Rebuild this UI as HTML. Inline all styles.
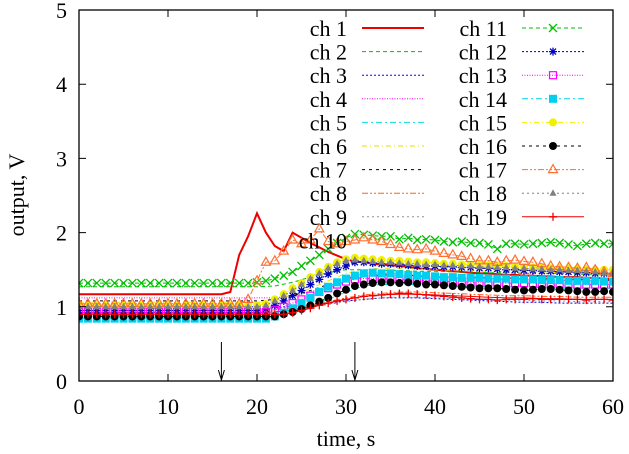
<!DOCTYPE html>
<html><head><meta charset="utf-8"><style>
html,body{margin:0;padding:0;background:#fff;}
svg{display:block;font-family:"Liberation Serif",serif;}
</style></head><body>
<svg id="chart" width="629" height="454" viewBox="0 0 629 454" xmlns="http://www.w3.org/2000/svg">
<defs><clipPath id="clip"><rect x="79" y="10" width="534" height="371"/></clipPath></defs>
<g id="grid-layer"></g>
<g id="series-layer" clip-path="url(#clip)"></g>
<g id="legend-layer"></g>
<g id="axes-layer"></g>
</svg>
<script>
const xTicks=[0,10,20,30,40,50,60];
const yTicks=[0,1,2,3,4,5];
const arrowTimes=[16,31];
const seriesNames=["ch 1","ch 2","ch 3","ch 4","ch 5","ch 6","ch 7","ch 8","ch 9","ch 10","ch 11","ch 12","ch 13","ch 14","ch 15","ch 16","ch 17","ch 18","ch 19"];
const t31=[0,2,4,6,8,10,12,14,16,18,20,22,24,26,28,30,32,34,36,38,40,42,44,46,48,50,52,54,56,58,60];
const ch1=[1.17,1.17,1.17,1.17,1.17,1.17,1.17,1.17,1.17,1.17,1.17,1.17,1.17,1.17,1.17,1.17,1.17,1.2,1.7,1.95,2.26,2.0,1.82,1.75,2.0,1.93,1.86,1.8,1.74,1.69,1.64,1.61,1.6,1.58,1.57,1.56,1.55,1.54,1.52,1.51,1.5,1.49,1.48,1.47,1.46,1.45,1.45,1.44,1.43,1.43,1.42,1.42,1.41,1.41,1.4,1.4,1.4,1.39,1.39,1.38,1.38];
const ch2=[1.27,1.27,1.27,1.27,1.27,1.27,1.27,1.27,1.27,1.27,1.27,1.28,1.33,1.4,1.46,1.5,1.5,1.49,1.49,1.48,1.48,1.47,1.47,1.46,1.46,1.45,1.45,1.45,1.44,1.44,1.44];
const ch3=[1.0,1.0,1.0,1.0,1.0,1.0,1.0,1.0,1.0,1.0,1.0,1.0,1.0,1.02,1.05,1.08,1.1,1.12,1.12,1.12,1.11,1.1,1.09,1.08,1.07,1.06,1.06,1.05,1.05,1.05,1.05];
const ch4=[1.12,1.12,1.12,1.12,1.12,1.12,1.12,1.12,1.12,1.12,1.12,1.12,1.15,1.2,1.28,1.35,1.4,1.42,1.42,1.41,1.4,1.39,1.38,1.38,1.37,1.37,1.36,1.36,1.35,1.35,1.35];
const ch5=[0.86,0.86,0.86,0.86,0.86,0.86,0.86,0.86,0.86,0.86,0.86,0.87,0.92,1.0,1.1,1.2,1.28,1.3,1.3,1.3,1.29,1.28,1.28,1.27,1.27,1.26,1.26,1.25,1.25,1.25,1.25];
const ch6=[1.06,1.06,1.06,1.06,1.06,1.06,1.06,1.06,1.06,1.06,1.06,1.08,1.15,1.25,1.35,1.45,1.5,1.52,1.52,1.51,1.5,1.49,1.49,1.48,1.48,1.47,1.47,1.46,1.46,1.45,1.45];
const ch7=[1.08,1.08,1.08,1.08,1.08,1.08,1.08,1.08,1.08,1.08,1.08,1.1,1.15,1.22,1.3,1.38,1.42,1.43,1.43,1.42,1.41,1.4,1.4,1.39,1.39,1.38,1.38,1.37,1.37,1.36,1.36];
const ch8=[0.95,0.95,0.95,0.95,0.95,0.95,0.95,0.95,0.95,0.95,0.95,0.96,0.98,1.02,1.07,1.12,1.16,1.18,1.2,1.2,1.19,1.18,1.17,1.16,1.15,1.15,1.14,1.14,1.13,1.13,1.13];
const ch9=[0.98,0.98,0.98,0.98,0.98,0.98,0.98,0.98,0.98,0.98,0.98,0.98,0.99,1.0,1.03,1.07,1.1,1.12,1.13,1.13,1.12,1.11,1.1,1.1,1.09,1.09,1.08,1.08,1.07,1.07,1.07];
const ch10=[0.92,0.92,0.92,0.92,0.92,0.92,0.92,0.92,0.92,0.92,0.92,0.93,0.96,1.0,1.05,1.1,1.14,1.16,1.17,1.17,1.16,1.15,1.14,1.13,1.12,1.12,1.11,1.11,1.1,1.1,1.1];
const ch11=[1.32,1.32,1.32,1.32,1.32,1.32,1.32,1.32,1.32,1.32,1.32,1.32,1.32,1.32,1.32,1.32,1.32,1.32,1.32,1.32,1.33,1.35,1.38,1.42,1.47,1.55,1.62,1.7,1.78,1.86,1.93,1.98,1.97,1.96,1.95,1.95,1.91,1.93,1.9,1.91,1.9,1.88,1.87,1.88,1.86,1.86,1.84,1.78,1.85,1.85,1.84,1.85,1.86,1.87,1.86,1.84,1.82,1.85,1.86,1.85,1.85];
const ch12=[0.95,0.95,0.95,0.95,0.95,0.95,0.95,0.95,0.95,0.95,0.95,0.95,0.95,0.95,0.95,0.95,0.95,0.95,0.95,0.95,0.95,0.97,1.02,1.08,1.15,1.22,1.3,1.37,1.44,1.5,1.55,1.6,1.6,1.59,1.58,1.58,1.57,1.56,1.55,1.55,1.55,1.54,1.54,1.53,1.53,1.52,1.52,1.51,1.5,1.5,1.49,1.49,1.48,1.48,1.47,1.47,1.46,1.46,1.45,1.45,1.45];
const ch13=[0.93,0.93,0.93,0.93,0.93,0.93,0.93,0.93,0.93,0.93,0.93,0.93,0.93,0.93,0.93,0.93,0.93,0.93,0.93,0.93,0.93,0.93,0.96,1.0,1.05,1.1,1.15,1.2,1.25,1.3,1.34,1.37,1.38,1.38,1.38,1.37,1.37,1.36,1.36,1.35,1.35,1.34,1.34,1.34,1.33,1.33,1.33,1.33,1.32,1.32,1.32,1.32,1.31,1.31,1.31,1.31,1.3,1.3,1.3,1.3,1.3];
const ch14=[0.84,0.84,0.84,0.84,0.84,0.84,0.84,0.84,0.84,0.84,0.84,0.84,0.84,0.84,0.84,0.84,0.84,0.84,0.84,0.84,0.84,0.84,0.87,0.92,0.98,1.05,1.12,1.2,1.27,1.33,1.38,1.42,1.45,1.46,1.45,1.45,1.44,1.43,1.42,1.42,1.41,1.4,1.4,1.39,1.39,1.39,1.38,1.38,1.38,1.37,1.37,1.37,1.36,1.36,1.36,1.35,1.35,1.35,1.35,1.34,1.34];
const ch15=[1.02,1.02,1.02,1.02,1.02,1.02,1.02,1.02,1.02,1.02,1.02,1.02,1.02,1.02,1.02,1.02,1.02,1.02,1.02,1.02,1.02,1.04,1.1,1.17,1.25,1.32,1.4,1.47,1.54,1.6,1.64,1.66,1.65,1.64,1.63,1.62,1.62,1.61,1.6,1.6,1.59,1.58,1.58,1.57,1.57,1.56,1.56,1.55,1.55,1.54,1.54,1.53,1.53,1.52,1.52,1.52,1.51,1.51,1.5,1.5,1.5];
const ch16=[0.87,0.87,0.87,0.87,0.87,0.87,0.87,0.87,0.87,0.87,0.87,0.87,0.87,0.87,0.87,0.87,0.87,0.87,0.87,0.87,0.87,0.87,0.87,0.9,0.93,0.97,1.02,1.07,1.12,1.18,1.23,1.28,1.3,1.32,1.33,1.33,1.32,1.33,1.31,1.3,1.3,1.29,1.28,1.27,1.26,1.25,1.25,1.25,1.24,1.23,1.22,1.23,1.24,1.24,1.23,1.22,1.21,1.2,1.2,1.21,1.2];
const ch17=[1.04,1.04,1.04,1.04,1.04,1.04,1.04,1.04,1.04,1.04,1.04,1.04,1.04,1.04,1.04,1.04,1.04,1.04,1.04,1.1,1.35,1.6,1.62,1.75,1.9,1.85,1.9,2.05,1.88,1.85,1.88,1.9,1.93,1.9,1.88,1.84,1.8,1.78,1.77,1.78,1.75,1.72,1.7,1.68,1.65,1.62,1.62,1.6,1.62,1.63,1.61,1.6,1.58,1.55,1.54,1.53,1.52,1.53,1.5,1.47,1.45];
const ch18=[1.0,1.0,1.0,1.0,1.0,1.0,1.0,1.0,1.0,1.0,1.0,1.0,1.0,1.0,1.0,1.0,1.0,1.0,1.0,1.0,1.0,1.02,1.08,1.15,1.22,1.3,1.38,1.45,1.52,1.58,1.62,1.63,1.62,1.61,1.6,1.6,1.59,1.58,1.58,1.57,1.57,1.56,1.56,1.55,1.55,1.54,1.54,1.53,1.53,1.52,1.52,1.51,1.51,1.5,1.5,1.49,1.49,1.48,1.47,1.46,1.45];
const ch19=[0.9,0.9,0.9,0.9,0.9,0.9,0.9,0.9,0.9,0.9,0.9,0.9,0.9,0.9,0.9,0.9,0.9,0.9,0.9,0.9,0.9,0.9,0.9,0.9,0.92,0.95,0.98,1.02,1.05,1.08,1.1,1.12,1.14,1.15,1.16,1.17,1.18,1.18,1.17,1.16,1.15,1.14,1.13,1.12,1.11,1.1,1.1,1.09,1.1,1.1,1.1,1.11,1.1,1.1,1.1,1.1,1.1,1.09,1.1,1.1,1.09];

const NS="http://www.w3.org/2000/svg";
const X0=79,X1=613,Y0=381,Y1=10;
function xs(t){return X0+(t-0)/(60-0)*(X1-X0);}
function ys(v){return Y0-(v-0)/(5-0)*(Y0-Y1);}
function mk(tag,attrs,parent){const e=document.createElementNS(NS,tag);for(const k in attrs)e.setAttribute(k,attrs[k]);parent.appendChild(e);return e;}
const t61=[];for(let i=0;i<=60;i++)t61.push(i);

const styles=[
 {c:"#ee0000",w:2,d:"",m:null},
 {c:"#00c000",w:1,d:"4,3",m:null},
 {c:"#0000ff",w:1,d:"2,2",m:null},
 {c:"#ff00ff",w:1,d:"1,1.5",m:null},
 {c:"#00e0e0",w:1,d:"6,3,2,3",m:null},
 {c:"#e8e000",w:1,d:"5,3,1,3",m:null},
 {c:"#000000",w:1,d:"3,4",m:null},
 {c:"#ff6020",w:1,d:"6,2,2,2,2,2",m:null},
 {c:"#909090",w:1,d:"2,3",m:null},
 {c:"#ee0000",w:1,d:"",m:null},
 {c:"#00c000",w:1,d:"4,3",m:"x"},
 {c:"#0000c0",w:1,d:"2,2",m:"star"},
 {c:"#ff00ff",w:1,d:"1,1.5",m:"box"},
 {c:"#00d0f0",w:1,d:"6,3,2,3",m:"fbox"},
 {c:"#f0f000",w:1,d:"5,3,1,3",m:"fcirc"},
 {c:"#000000",w:1,d:"3,4",m:"dot"},
 {c:"#ff7030",w:1,d:"6,2,2,2,2,2",m:"tri"},
 {c:"#808080",w:1,d:"2,3",m:"ftri"},
 {c:"#ee0000",w:1,d:"",m:"plus"}
];
const seriesData=[ch1,ch2,ch3,ch4,ch5,ch6,ch7,ch8,ch9,ch10,ch11,ch12,ch13,ch14,ch15,ch16,ch17,ch18,ch19];

function marker(type,x,y,c,parent){
  const s=4;let e;
  if(type==="x"){e=mk("path",{d:`M${x-s},${y-s}L${x+s},${y+s}M${x-s},${y+s}L${x+s},${y-s}`,stroke:c,"stroke-width":1.3,fill:"none"},parent);}
  else if(type==="plus"){e=mk("path",{d:`M${x-s},${y}L${x+s},${y}M${x},${y-s}L${x},${y+s}`,stroke:c,"stroke-width":1.3,fill:"none"},parent);}
  else if(type==="star"){e=mk("path",{d:`M${x-s},${y}L${x+s},${y}M${x},${y-s}L${x},${y+s}M${x-3},${y-3}L${x+3},${y+3}M${x-3},${y+3}L${x+3},${y-3}`,stroke:c,"stroke-width":1.3,fill:"none"},parent);}
  else if(type==="box"){e=mk("rect",{x:x-3.5,y:y-3.5,width:7,height:7,stroke:c,"stroke-width":1.2,fill:"none"},parent);}
  else if(type==="fbox"){e=mk("rect",{x:x-4,y:y-4,width:8,height:8,fill:c},parent);}
  else if(type==="fcirc"){e=mk("circle",{cx:x,cy:y,r:4,fill:c},parent);}
  else if(type==="dot"){e=mk("circle",{cx:x,cy:y,r:4,fill:c},parent);}
  else if(type==="tri"){e=mk("path",{d:`M${x},${y-5}L${x+4.5},${y+3}L${x-4.5},${y+3}Z`,stroke:c,"stroke-width":1.2,fill:"none"},parent);}
  else if(type==="ftri"){e=mk("path",{d:`M${x},${y-4}L${x+3.5},${y+2.5}L${x-3.5},${y+2.5}Z`,fill:c},parent);}
  
  
  return e;
}

const sl=document.getElementById("series-layer");
seriesData.forEach((arr,i)=>{
  const st=styles[i];
  const ts=arr.length===61?t61:t31;
  const g=mk("g",{},sl);
  
  
  const d=arr.map((v,k)=>(k?"L":"M")+xs(ts[k]).toFixed(1)+","+ys(v).toFixed(1)).join("");
  const p=mk("path",{d:d,stroke:st.c,"stroke-width":st.w,fill:"none","stroke-dasharray":st.d},g);
  
  
  if(st.m){arr.forEach((v,k)=>marker(st.m,xs(ts[k]),ys(v),st.c,g));}
});

// axes
const ax=document.getElementById("axes-layer");
const frame=mk("rect",{x:X0,y:Y1,width:X1-X0,height:Y0-Y1,fill:"none",stroke:"#000","stroke-width":1.3},ax);


xTicks.forEach(t=>{
  const x=xs(t);
  mk("path",{d:`M${x},${Y0}L${x},${Y0-7}M${x},${Y1}L${x},${Y1+7}`,stroke:"#000","stroke-width":1},ax);
  const tx=mk("text",{x:x,y:414,"font-size":22,"text-anchor":"middle"},ax);
  tx.textContent=t;
  
  
});
yTicks.forEach(v=>{
  const y=ys(v);
  mk("path",{d:`M${X0},${y}L${X0+7},${y}M${X1},${y}L${X1-7},${y}`,stroke:"#000","stroke-width":1},ax);
  const tx=mk("text",{x:67,y:y+8,"font-size":22,"text-anchor":"end"},ax);
  tx.textContent=v;
  
  
});
arrowTimes.forEach(t=>{
  const x=xs(t);
  const a=mk("path",{d:`M${x},342L${x},380M${x-3},370L${x},380L${x+3},370`,stroke:"#000","stroke-width":1,fill:"none"},ax);
  
  
});
const xt=mk("text",{x:346,y:446,"font-size":22,"text-anchor":"middle"},ax);
xt.textContent="time, s";


const yt=mk("text",{x:0,y:0,"font-size":22,"text-anchor":"middle",transform:"translate(24,195) rotate(-90)"},ax);
yt.textContent="output, V";



// legend
const lg=document.getElementById("legend-layer");
seriesNames.forEach((n,i)=>{
  const col=i<10?0:1,row=i<10?i:i-10;
  const yc=28+row*23.6;
  const tx0=col?507:347, sx0=col?522:362, sx1=col?584:424;
  const g=mk("g",{},lg);
  
  
  const tx=mk("text",{x:tx0,y:yc+8,"font-size":22,"text-anchor":"end"},g);
  tx.textContent=n;
  if(i===9)return;
  const st=styles[i];
  mk("path",{d:`M${sx0},${yc}L${sx1},${yc}`,stroke:st.c,"stroke-width":st.w,fill:"none","stroke-dasharray":st.d},g);
  if(st.m)marker(st.m,(sx0+sx1)/2,yc,st.c,g);
});
</script>
</body></html>
